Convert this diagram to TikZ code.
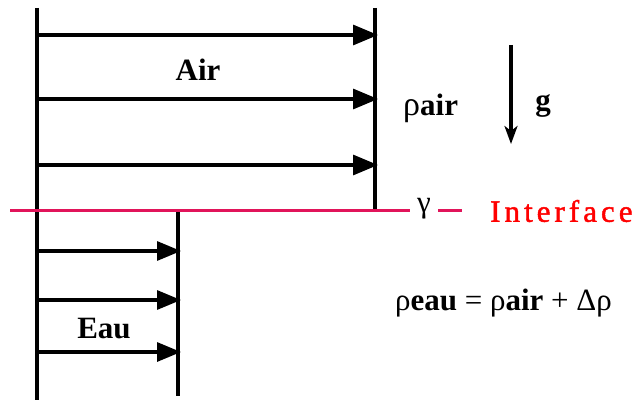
\documentclass[tikz,border=0pt]{standalone}
\usepackage{fontspec}
\setmainfont{Liberation Serif}
\usetikzlibrary{arrows.meta}
\definecolor{pinkline}{RGB}{225,20,90}
\definecolor{ifred}{RGB}{255,0,0}
\begin{document}
\begin{tikzpicture}[x=1pt,y=-1pt,
  wall/.style={line width=3.2pt,black},
  flowarrow/.style={line width=3.2pt,-{Triangle[length=25pt,width=20pt]},shorten >=-3pt},
  flowarrowsmall/.style={line width=3.2pt,-{Triangle[length=24pt,width=19pt]},shorten >=-3pt},
  lbl/.style={inner sep=0pt,font=\fontsize{31}{34}\selectfont}]
\useasboundingbox (0,0) rectangle (640,401);
% walls
\coordinate (LT) at (37,8);
\coordinate (LB) at (37,400);
\coordinate (AT) at (375,8);
\coordinate (AB) at (375,210);
\coordinate (ET) at (178,210);
\coordinate (EB) at (178,396);
\draw[wall] (LT) -- (LB);
\draw[wall] (AT) -- (AB);
\draw[wall] (ET) -- (EB);
% air arrows
\foreach \y/\n in {35/a1,99/a2,165/a3}{
  \coordinate (\n s) at (37,\y);
  \coordinate (\n e) at (375,\y);
  \draw[flowarrow] (\n s) -- (\n e);
}
% water arrows
\foreach \y/\n in {251/e1,300/e2,352/e3}{
  \coordinate (\n s) at (37,\y);
  \coordinate (\n e) at (178,\y);
  \draw[flowarrowsmall] (\n s) -- (\n e);
}
% interface line
\coordinate (I0) at (10,210);
\coordinate (I1) at (410,210);
\coordinate (I2) at (438,210);
\coordinate (I3) at (462,210);
\draw[pinkline,line width=3pt] (I0) -- (I1);
\draw[pinkline,line width=3pt] (I2) -- (I3);
\node[lbl] (gamma) at (424,209) {γ};
\node[lbl,anchor=west,text=ifred] (iface) at (490,211) {\addfontfeature{LetterSpace=13,FakeBold=1.5}Interface};
% labels
\node[lbl,font=\fontsize{31}{34}\bfseries] (air) at (198,70) {Air};
\node[lbl,font=\fontsize{31}{34}\bfseries] (eau) at (104,329) {Eau};
\node[lbl,anchor=west] (rhoair) at (403,108) {{\fontsize{34}{34}\selectfont ρ}\textbf{air}};
% gravity
\coordinate (g0) at (511,45);
\coordinate (g1) at (511,144);
\draw[line width=3.2pt,-{Stealth[length=18pt,width=13pt,inset=5pt]}] (g0) -- (g1);
\node[lbl,font=\fontsize{31}{34}\bfseries] (g) at (543,106) {g};
% relation
\node[lbl,anchor=west] (rel) at (395,303) {ρ\textbf{eau} = ρ\textbf{air} + Δρ};
\end{tikzpicture}
\end{document}
